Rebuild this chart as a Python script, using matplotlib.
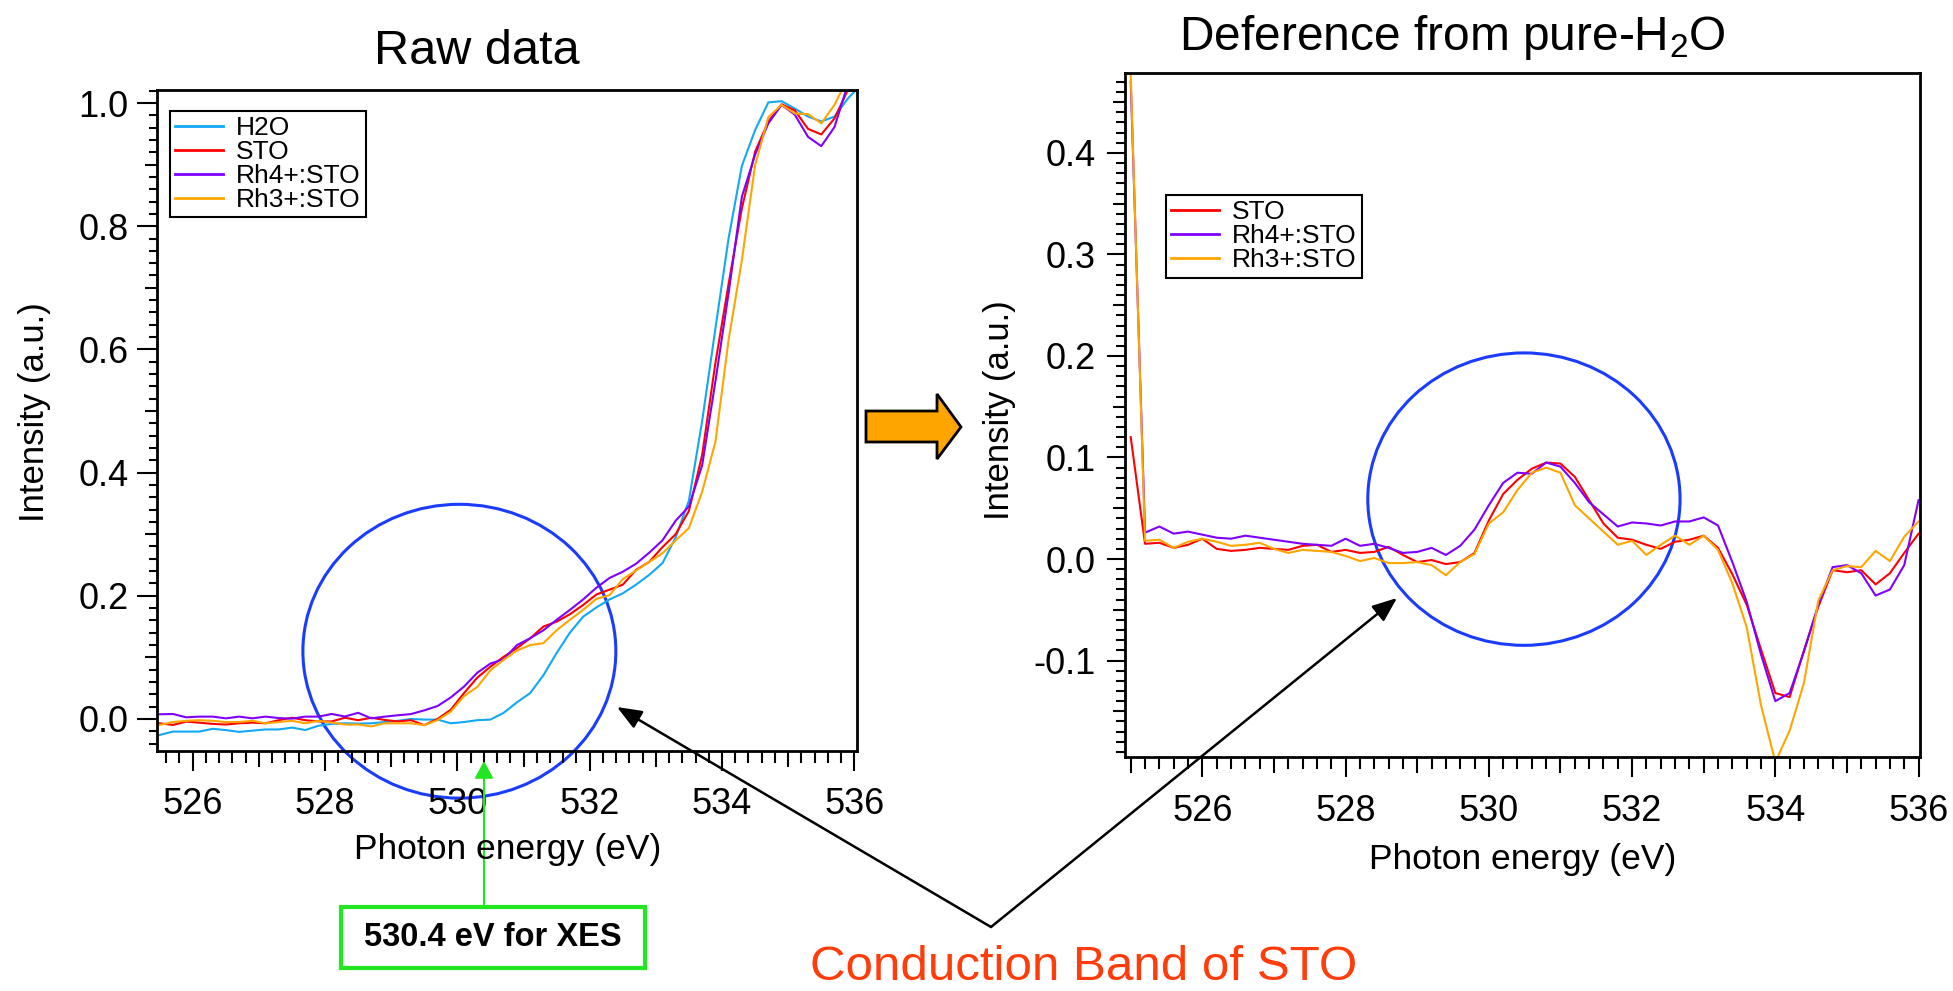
import matplotlib
matplotlib.use('Agg')
import numpy as np
import matplotlib.pyplot as plt
from matplotlib import font_manager
from matplotlib.patches import Ellipse, Polygon, Rectangle, FancyArrowPatch
from matplotlib.ticker import MultipleLocator, FormatStrFormatter

# ---- data ----
# raw spectra (left panel)
energy_raw = [525.5, 525.7, 525.9, 526.1, 526.3, 526.5, 526.7, 526.9, 527.1, 527.3,
              527.5, 527.7, 527.9, 528.1, 528.3, 528.5, 528.7, 528.9, 529.1, 529.3,
              529.5, 529.7, 529.9, 530.1, 530.3, 530.5, 530.7, 530.9, 531.1, 531.3,
              531.5, 531.7, 531.9, 532.1, 532.3, 532.5, 532.7, 532.9, 533.1, 533.3,
              533.5, 533.7, 533.9, 534.1, 534.3, 534.5, 534.7, 534.9, 535.1, 535.3,
              535.5, 535.7, 535.9, 536.1]
raw_h2o = [-0.026, -0.0205, -0.0205, -0.0205, -0.016, -0.018, -0.021, -0.019, -0.017, -0.017,
           -0.014, -0.018, -0.011, -0.008, -0.007, -0.0075, -0.007, -0.005, -0.003, 0.0,
           -0.001, -0.001, -0.007, -0.005, -0.002, -0.001, 0.010, 0.027, 0.042, 0.071,
           0.107, 0.140, 0.166, 0.181, 0.194, 0.204, 0.218, 0.234, 0.253, 0.295,
           0.355, 0.484, 0.634, 0.781, 0.898, 0.956, 1.001, 1.003, 0.991, 0.978,
           0.970, 0.978, 1.007, 1.03]
raw_sto = [-0.007, -0.0097, -0.0043, -0.006, -0.008, -0.009, -0.007, -0.006, -0.007, -0.002,
           0.002, -0.002, -0.004, -0.004, 0.002, -0.002, 0.002, -0.0016, -0.004, -0.002,
           -0.010, 0.0, 0.015, 0.042, 0.067, 0.085, 0.101, 0.115, 0.131, 0.150,
           0.158, 0.170, 0.185, 0.202, 0.210, 0.218, 0.242, 0.255, 0.279, 0.300,
           0.338, 0.429, 0.578, 0.707, 0.829, 0.921, 0.970, 0.998, 0.988, 0.958,
           0.949, 0.975, 1.021, 1.07]
raw_rh4 = [0.0076, 0.0081, 0.0027, 0.0038, 0.0038, 0.001, 0.0038, 0.001, 0.0038, 0.0015,
           0.0005, 0.0038, 0.0038, 0.0081, 0.004, 0.010, 0.001, 0.0038, 0.006, 0.008,
           0.014, 0.021, 0.035, 0.0525, 0.075, 0.090, 0.097, 0.120, 0.131, 0.144,
           0.161, 0.177, 0.194, 0.213, 0.229, 0.239, 0.252, 0.270, 0.290, 0.322,
           0.345, 0.412, 0.548, 0.692, 0.848, 0.916, 0.967, 0.997, 0.981, 0.945,
           0.930, 0.961, 1.03, 1.08]
raw_rh3 = [-0.0097, -0.005, -0.003, -0.002, -0.003, -0.005, -0.005, -0.003, -0.007, -0.005,
           -0.003, -0.007, -0.003, -0.006, -0.009, -0.009, -0.012, -0.007, -0.007, -0.007,
           -0.010, -0.002, 0.012, 0.037, 0.052, 0.079, 0.096, 0.111, 0.120, 0.123,
           0.144, 0.161, 0.177, 0.195, 0.201, 0.227, 0.241, 0.255, 0.269, 0.290,
           0.310, 0.369, 0.450, 0.616, 0.745, 0.899, 0.977, 0.997, 0.983, 0.982,
           0.967, 0.997, 1.04, 1.09]

# difference from pure H2O (right panel)
energy_diff = [525.0, 525.2, 525.4, 525.6, 525.8, 526.0, 526.2, 526.4, 526.6, 526.8,
               527.0, 527.2, 527.4, 527.6, 527.8, 528.0, 528.2, 528.4, 528.6, 528.8,
               529.0, 529.2, 529.4, 529.6, 529.8, 530.0, 530.2, 530.4, 530.6, 530.8,
               531.0, 531.2, 531.4, 531.6, 531.8, 532.0, 532.2, 532.4, 532.6, 532.8,
               533.0, 533.2, 533.4, 533.6, 533.8, 534.0, 534.2, 534.4, 534.6, 534.8,
               535.0, 535.2, 535.4, 535.6, 535.8, 536.0]
diff_sto = [0.120, 0.015, 0.016, 0.011, 0.014, 0.020, 0.010, 0.008, 0.009, 0.011,
            0.010, 0.009, 0.013, 0.014, 0.007, 0.009, 0.006, 0.007, 0.012, 0.004,
            -0.003, -0.001, -0.005, -0.003, 0.006, 0.038, 0.064, 0.078, 0.089, 0.095,
            0.094, 0.081, 0.058, 0.035, 0.021, 0.019, 0.014, 0.010, 0.017, 0.019,
            0.023, 0.011, -0.015, -0.045, -0.089, -0.132, -0.136, -0.090, -0.047, -0.011,
            -0.013, -0.011, -0.025, -0.014, 0.006, 0.025]
diff_rh4 = [0.470, 0.026, 0.032, 0.025, 0.027, 0.024, 0.021, 0.020, 0.023, 0.021,
            0.019, 0.017, 0.015, 0.014, 0.013, 0.020, 0.013, 0.015, 0.011, 0.006,
            0.007, 0.011, 0.004, 0.013, 0.029, 0.053, 0.075, 0.085, 0.084, 0.095,
            0.091, 0.075, 0.056, 0.044, 0.032, 0.036, 0.035, 0.033, 0.037, 0.037,
            0.041, 0.033, -0.003, -0.042, -0.094, -0.140, -0.132, -0.091, -0.045, -0.008,
            -0.006, -0.014, -0.036, -0.030, -0.006, 0.058]
diff_rh3 = [0.477, 0.018, 0.019, 0.011, 0.017, 0.020, 0.017, 0.013, 0.014, 0.016,
            0.010, 0.006, 0.009, 0.008, 0.007, 0.003, -0.002, 0.001, -0.004, -0.004,
            -0.003, -0.006, -0.016, -0.003, 0.005, 0.035, 0.046, 0.068, 0.085, 0.090,
            0.085, 0.053, 0.040, 0.027, 0.014, 0.018, 0.004, 0.014, 0.023, 0.014,
            0.023, 0.009, -0.024, -0.067, -0.144, -0.200, -0.169, -0.122, -0.041, -0.011,
            -0.007, -0.008, 0.008, -0.002, 0.022, 0.037]

raw_labels = ['H2O', 'STO', 'Rh4+:STO', 'Rh3+:STO']
diff_labels = ['STO', 'Rh4+:STO', 'Rh3+:STO']
colors = {'H2O': '#12a8f5', 'STO': '#ff0000', 'Rh4+:STO': '#8000ff', 'Rh3+:STO': '#ffa500'}

# ---- fonts ----
names = {f.name for f in font_manager.fontManager.ttflist}
main_font = 'Liberation Sans' if 'Liberation Sans' in names else 'DejaVu Sans'
plt.rcParams['font.family'] = [main_font, 'DejaVu Sans']
plt.rcParams['mathtext.fontset'] = 'custom'
plt.rcParams['mathtext.rm'] = main_font
plt.rcParams['mathtext.default'] = 'regular'

W, H = 1953, 991


def fx(px):
    return px / W


def fy(py):
    return 1 - py / H


def style_axis(ax, xmaj, xmin, ymaj, ymin, ylen, ypad, xpad):
    ax.xaxis.set_major_locator(MultipleLocator(xmaj))
    ax.xaxis.set_minor_locator(MultipleLocator(xmin))
    ax.yaxis.set_major_locator(MultipleLocator(ymaj))
    ax.yaxis.set_minor_locator(MultipleLocator(ymin))
    ax.yaxis.set_major_formatter(FormatStrFormatter('%.1f'))
    ax.tick_params(axis='x', which='major', direction='out', length=14.4, width=1.5,
                   labelsize=26, pad=xpad)
    ax.tick_params(axis='x', which='minor', direction='out', length=8.6, width=1.5)
    ax.tick_params(axis='y', which='major', direction='out', length=ylen[0], width=1.5,
                   labelsize=26, pad=ypad)
    ax.tick_params(axis='y', which='minor', direction='out', length=ylen[1], width=1.5)
    for s in ax.spines.values():
        s.set_linewidth(2)


def medium_ticks(axis, step, size):
    locs = axis.get_minorticklocs()
    for tick, loc in zip(axis.get_minor_ticks(len(locs)), locs):
        if abs(loc / step - round(loc / step)) < 1e-6:
            tick.tick1line.set_markersize(size)


def add_legend(ax, anchor):
    leg = ax.legend(loc='upper left', bbox_to_anchor=anchor, fancybox=False,
                    edgecolor='black', framealpha=1, fontsize=19, handlelength=1.8,
                    handletextpad=0.5, borderpad=0.2, labelspacing=0.0, borderaxespad=0)
    leg.get_frame().set_linewidth(1.5)
    for line in leg.get_lines():
        line.set_linewidth(2)


fig = plt.figure(figsize=(W / 100, H / 100), dpi=100)

# ---- left panel ----
ax1 = fig.add_axes([fx(157), fy(751), fx(857) - fx(157), fy(89.7) - fy(751)])
for lab, vals in zip(raw_labels, [raw_h2o, raw_sto, raw_rh4, raw_rh3]):
    ax1.plot(energy_raw, vals, color=colors[lab], lw=1.5, label=lab)
ax1.set_xlim(525.46, 536.04)
ax1.set_ylim(-0.052, 1.0216)
style_axis(ax1, 2, 0.2, 0.2, 0.02, (14.4, 5.8), 6, 11.5)
add_legend(ax1, (0.0186, 0.968))

# ---- right panel ----
ax2 = fig.add_axes([fx(1125), fy(757), fx(1920) - fx(1125), fy(72.7) - fy(757)])
for lab, vals in zip(diff_labels, [diff_sto, diff_rh4, diff_rh3]):
    ax2.plot(energy_diff, vals, color=colors[lab], lw=1.5, label=lab)
ax2.set_xlim(524.92, 536.02)
ax2.set_ylim(-0.195, 0.479)
style_axis(ax2, 2, 0.2, 0.1, 0.01, (13, 6.5), 8, 12)
add_legend(ax2, (0.0516, 0.821))

fig.canvas.draw()
medium_ticks(ax1.xaxis, 1.0, 11.5)
medium_ticks(ax1.yaxis, 0.1, 8.6)
medium_ticks(ax2.xaxis, 1.0, 11.5)
medium_ticks(ax2.yaxis, 0.05, 9)

# ---- titles and axis labels ----
fig.text(fx(477), fy(63.5), 'Raw data', fontsize=35, ha='center', va='baseline')
fig.text(fx(1452), fy(50), 'Deference from pure-H$_2$O', fontsize=34.5, ha='center', va='baseline')
fig.text(fx(35), fy(412), 'Intensity (a.u.)', fontsize=25, rotation=90, ha='center', va='center')
fig.text(fx(999), fy(410), 'Intensity (a.u.)', fontsize=25, rotation=90, ha='center', va='center')
fig.text(fx(508), fy(850), 'Photon energy (eV)', fontsize=25.5, ha='center', va='center')
fig.text(fx(1523), fy(859), 'Photon energy (eV)', fontsize=25.5, ha='center', va='center')

# ---- blue circles ----
ax1.add_patch(Ellipse((530.03, 0.110), 4.73, 0.477, fill=False, ec='#1a3cff', lw=2.2, clip_on=False))
ax2.add_patch(Ellipse((530.49, 0.059), 4.36, 0.288, fill=False, ec='#1a3cff', lw=2.2, clip_on=False))

# ---- orange block arrow between panels ----
arrow_pts = [(866, 411), (937, 411), (937, 394), (961, 427), (937, 459), (937, 442), (866, 442)]
fig.add_artist(Polygon([(fx(x), fy(y)) for x, y in arrow_pts], closed=True, transform=fig.transFigure,
                       fc='#ffa500', ec='black', lw=2))

# ---- green XES marker ----
fig.add_artist(Rectangle((fx(341), fy(968)), fx(645) - fx(341), fy(907) - fy(968),
                         transform=fig.transFigure, fill=False, ec='#22e622', lw=3))
fig.text(fx(493), fy(938), '530.4 eV for XES', fontsize=23.5, fontweight='bold', ha='center', va='center')
fig.add_artist(FancyArrowPatch((fx(484), fy(907)), (fx(484), fy(761)), transform=fig.transFigure,
                               arrowstyle='-|>,head_length=0.7,head_width=0.38', mutation_scale=15,
                               color='#22e622', lw=1.5, shrinkA=0, shrinkB=0))

# ---- conduction band annotation ----
for tip in [(617, 707), (1397, 598)]:
    fig.add_artist(FancyArrowPatch((fx(991), fy(927)), (fx(tip[0]), fy(tip[1])),
                                   transform=fig.transFigure,
                                   arrowstyle='-|>,head_length=1.0,head_width=0.4', mutation_scale=15,
                                   color='black', lw=1.8, shrinkA=0, shrinkB=0))
fig.text(fx(1084), fy(968), 'Conduction Band of STO', fontsize=35.5, color='#ff3c0a',
         ha='center', va='center')

fig.savefig('out.png', dpi=100)
